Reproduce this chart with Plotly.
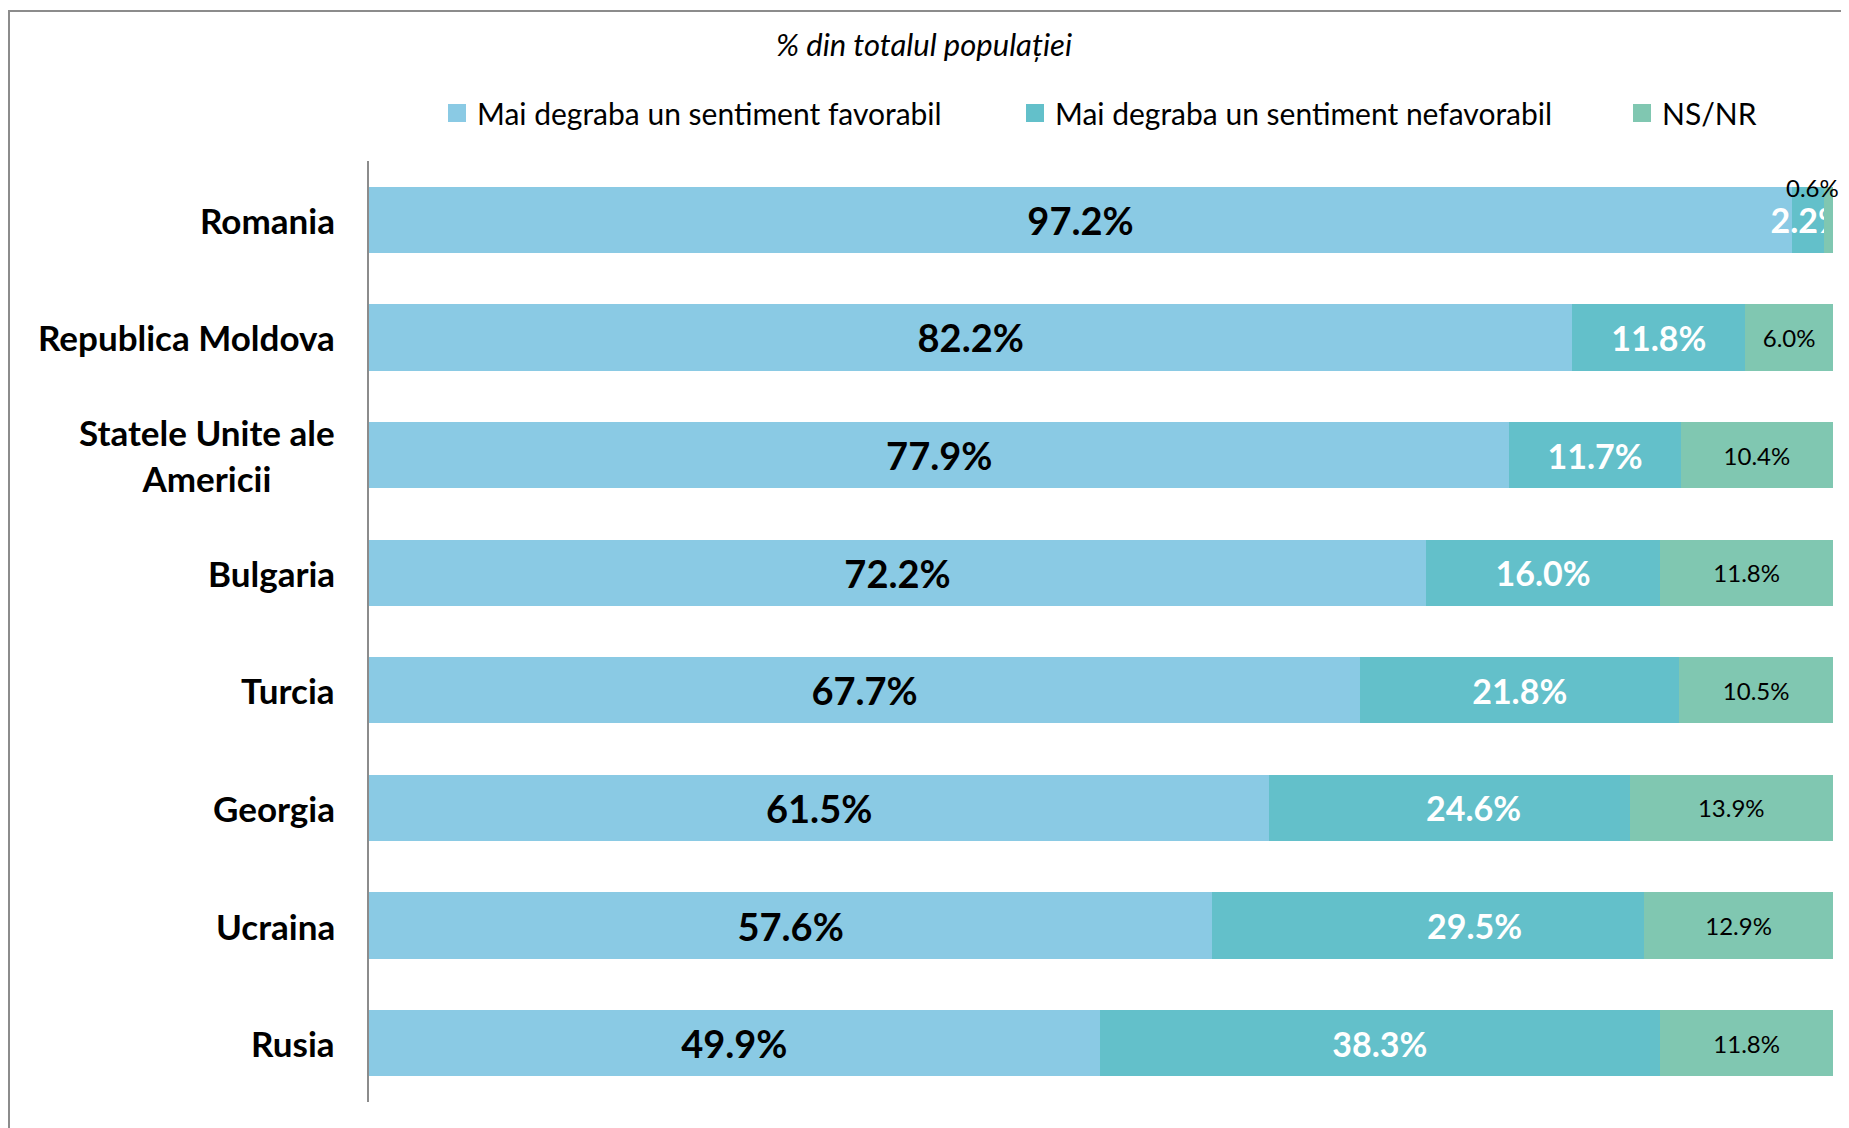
import plotly.graph_objects as go

# --- Data ---
countries = ["Romania", "Republica Moldova", "Statele Unite ale<br>Americii", "Bulgaria",
             "Turcia", "Georgia", "Ucraina", "Rusia"]
favorabil = [97.2, 82.2, 77.9, 72.2, 67.7, 61.5, 57.6, 49.9]
nefavorabil = [2.2, 11.8, 11.7, 16.0, 21.8, 24.6, 29.5, 38.3]
ns_nr = [0.6, 6.0, 10.4, 11.8, 10.5, 13.9, 12.9, 11.8]

series_names = ["Mai degraba un sentiment favorabil",
                "Mai degraba un sentiment nefavorabil",
                "NS/NR"]
colors = ["#8ACAE4", "#63C0CA", "#80C7B1"]
chart_title = "% din totalul populației"

FONT = "Lato"

# --- Geometry (page pixels; the page body adds an 8px margin) ---
OFF = 8
W, H = 1849 - OFF, 1128 - OFF
PL, PR, PT, PB = 369 - OFF, 1833 - OFF, 161 - OFF, 1102 - OFF

# a couple of "nefavorabil" labels were nudged right in the original
nef_label_xshift = [0, 0, 0, 0, 0, 24, 46, 0]


def px_x(p):
    return (p - OFF - PL) / (PR - PL)


def px_y(p):
    return (PB - (p - OFF)) / (PB - PT)


fav_font = dict(family=FONT, size=38, color="black", weight=700)
nef_font = dict(family=FONT, size=34, color="white", weight=700)
ns_font = dict(family=FONT, size=24, color="black")

fig = go.Figure()

# --- Stacked bars ---
fig.add_trace(go.Bar(
    y=countries, x=favorabil, orientation="h", name=series_names[0],
    marker=dict(color=colors[0], line=dict(width=0)),
    text=[f"{v:.1f}%" for v in favorabil], textposition="inside",
    insidetextanchor="middle", textangle=0, constraintext="none",
    textfont=fav_font, showlegend=False, hoverinfo="skip",
))
fig.add_trace(go.Bar(
    y=countries, x=nefavorabil, orientation="h", name=series_names[1],
    marker=dict(color=colors[1], line=dict(width=0)),
    text=[f"{v:.1f}%" if s == 0 else "" for v, s in zip(nefavorabil, nef_label_xshift)],
    textposition="inside", insidetextanchor="middle", textangle=0,
    constraintext="none", textfont=nef_font, showlegend=False, hoverinfo="skip",
))
# Romania's NS/NR label sits above the bar, added as annotation below
fig.add_trace(go.Bar(
    y=countries, x=ns_nr, orientation="h", name=series_names[2],
    marker=dict(color=colors[2], line=dict(width=0)),
    text=[""] + [f"{v:.1f}%" for v in ns_nr[1:]], textposition="inside",
    insidetextanchor="middle", textangle=0, constraintext="none",
    textfont=ns_font, showlegend=False, hoverinfo="skip",
))

# --- Legend entries (one legend per item, to place them like the original) ---
legend_keys = ["legend", "legend2", "legend3"]
for name, color, key in zip(series_names, colors, legend_keys):
    fig.add_trace(go.Scatter(
        x=[None], y=[None], mode="markers", name=name, legend=key,
        marker=dict(symbol="square", size=16, color=color,
                    line=dict(color=color, width=2)),
        showlegend=True, hoverinfo="skip",
    ))

legend_text_starts = [479, 1057, 1664]
legend_cfg = {}
for key, start in zip(legend_keys, legend_text_starts):
    legend_cfg[key] = dict(
        x=px_x(start - 42), y=px_y(113), xanchor="left", yanchor="middle",
        orientation="h", bgcolor="rgba(0,0,0,0)",
        font=dict(family=FONT, size=30, color="black"),
    )

# --- Category labels (centred lines, right edge next to the axis) ---
annotations = []
for c in countries:
    annotations.append(dict(
        x=px_x(337), xref="paper", y=c, yref="y", text=c,
        xanchor="right", yanchor="middle", align="center", showarrow=False,
        font=dict(family=FONT, size=35, color="black", weight=700),
    ))

# shifted "nefavorabil" labels
for c, f, n, s in zip(countries, favorabil, nefavorabil, nef_label_xshift):
    if s:
        annotations.append(dict(
            x=f + n / 2, y=c, text=f"{n:.1f}%", showarrow=False, xshift=s,
            font=nef_font,
        ))

# small NS/NR label for Romania, above the thin segment
annotations.append(dict(
    x=favorabil[0] + nefavorabil[0] + ns_nr[0] / 2, y=countries[0],
    text=f"{ns_nr[0]:.1f}%", showarrow=False, xshift=-16, yshift=32,
    font=ns_font,
))

# --- Layout styling ---
fig.update_layout(
    width=W, height=H,
    barmode="stack", bargap=0.4375,
    plot_bgcolor="white", paper_bgcolor="white",
    margin=dict(l=PL, r=W - PR, t=PT, b=H - PB, autoexpand=False),
    title=dict(
        text=chart_title, x=(924 - OFF) / W, xref="container", xanchor="center",
        y=1 - (45 - OFF) / H, yref="container", yanchor="middle",
        font=dict(family=FONT, size=31, color="black", style="italic"),
    ),
    xaxis=dict(range=[0, 100], visible=False, fixedrange=True),
    yaxis=dict(
        type="category", autorange="reversed", showticklabels=False,
        showline=True, linecolor="#8C8C8C", linewidth=2, ticks="",
        showgrid=False, zeroline=False, fixedrange=True,
    ),
    annotations=annotations,
    shapes=[dict(
        type="rect", xref="paper", yref="paper", layer="below",
        x0=px_x(9), x1=px_x(1880), y0=px_y(1150), y1=px_y(11),
        line=dict(color="#8C8C8C", width=2), fillcolor="rgba(0,0,0,0)",
    )],
    **legend_cfg,
)

fig.write_html("out.html")
